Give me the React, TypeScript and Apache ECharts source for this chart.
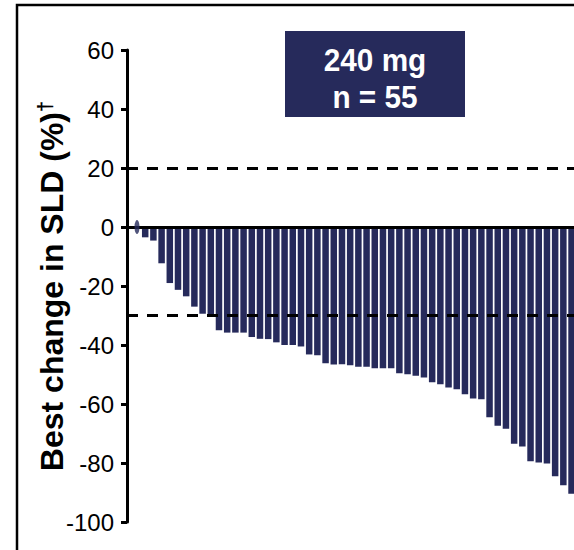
import React, { useEffect, useRef } from "react";
import * as echarts from "echarts";

// Best change in SLD (%) per patient, sorted (index 0 = patient with no change)
const bestChange: number[] = [
  0,
  -3.5, -4.6, -12.3, -19, -21.3, -23.5, -27, -29.4, -30.5, -35,
  -35.8, -35.8, -35.8, -37.3, -37.9, -38, -39.1, -40, -40, -40.5,
  -43.2, -43.5, -46.2, -46.6, -46.5, -46.9, -47.4, -47.4, -47.9, -47.9,
  -47.9, -49.6, -49.9, -50.4, -51, -52.6, -53.3, -54.4, -55, -56.7,
  -58.1, -58.4, -64.5, -67.4, -68.4, -73.5, -74.4, -79.4, -79.8, -80.2,
  -84.5, -87.5, -90.4,
];
const yTicks = { min: -100, max: 60, interval: 20 };
const refLines = { zero: 0, progression: 20, response: -30 };
const boxLines = ["240 mg", "n = 55"];
const yTitle = "Best change in SLD (%)";
const yTitleMark = "†";

const NAVY = "#262A5B";
const FONT = "'Liberation Sans', Arial, sans-serif";

export default function App() {
  const ref = useRef<HTMLDivElement>(null);
  useEffect(() => {
    document.body.style.margin = "0";
    if (!ref.current) return;
    const chart = echarts.init(ref.current, undefined, { renderer: "svg" });
    const barData = bestChange.map((v, i) => [i, v]);
    const dotData = bestChange
      .map((v, i) => [i, v])
      .filter((d) => d[1] === 0);
    chart.setOption({
      animation: false,
      backgroundColor: "#ffffff",
      grid: { left: 127, right: 0, top: 50, bottom: 28 },
      xAxis: {
        type: "value",
        min: -1.22,
        max: 53.3,
        show: false,
      },
      yAxis: {
        type: "value",
        min: yTicks.min,
        max: yTicks.max,
        interval: yTicks.interval,
        name: `{t|${yTitle}}{s|${yTitleMark}}`,
        nameLocation: "middle",
        nameRotate: 90,
        nameGap: 58,
        nameMoveOverlap: false,
        nameTextStyle: {
          fontFamily: FONT,
          fontWeight: "bold",
          fontSize: 32,
          color: "#000",
          rich: {
            t: { fontFamily: FONT, fontWeight: "bold", fontSize: 32, color: "#000" },
            s: { fontFamily: FONT, fontWeight: "bold", fontSize: 20, color: "#000", verticalAlign: "top", padding: [0, 0, 14, 0] },
          },
        },
        axisLine: {
          show: true,
          onZero: false,
          lineStyle: { color: "#000", width: 3 },
        },
        axisTick: {
          show: true,
          length: 6,
          lineStyle: { color: "#000", width: 3 },
        },
        axisLabel: {
          fontFamily: FONT,
          fontSize: 24,
          color: "#000",
          margin: 13,
        },
        splitLine: { show: false },
      },
      series: [
        {
          type: "bar",
          data: barData,
          barWidth: 6.5,
          itemStyle: { color: NAVY },
          clip: true,
          markLine: {
            silent: true,
            symbol: ["none", "none"],
            label: { show: false },
            data: [
              { yAxis: refLines.zero, lineStyle: { type: "solid", color: "#000", width: 3 } },
              { yAxis: refLines.progression, lineStyle: { type: [11, 9], color: "#000", width: 3 } },
              { yAxis: refLines.response, lineStyle: { type: [11, 9], color: "#000", width: 3 } },
            ],
          },
        },
        {
          type: "scatter",
          data: dotData,
          symbol: "circle",
          symbolSize: [5, 14],
          itemStyle: { color: NAVY },
          z: 5,
        },
      ],
      graphic: [
        {
          type: "rect",
          shape: { x: 17, y: 5, width: 800, height: 800 },
          style: { fill: "none", stroke: "#000", lineWidth: 2.5 },
          silent: true,
        },
        {
          type: "rect",
          shape: { x: 285, y: 31, width: 180, height: 86 },
          style: { fill: NAVY },
          silent: true,
        },
        {
          type: "text",
          x: 375,
          y: 60,
          scaleX: 0.93,
          style: {
            text: boxLines[0],
            fill: "#fff",
            font: `bold 32px ${FONT}`,
            textAlign: "center",
            textVerticalAlign: "middle",
          },
        },
        {
          type: "text",
          x: 375,
          y: 97,
          scaleX: 0.93,
          style: {
            text: boxLines[1],
            fill: "#fff",
            font: `bold 32px ${FONT}`,
            textAlign: "center",
            textVerticalAlign: "middle",
          },
        },
      ],
    });
    return () => chart.dispose();
  }, []);
  return <div ref={ref} style={{ width: 574, height: 550 }} />;
}
